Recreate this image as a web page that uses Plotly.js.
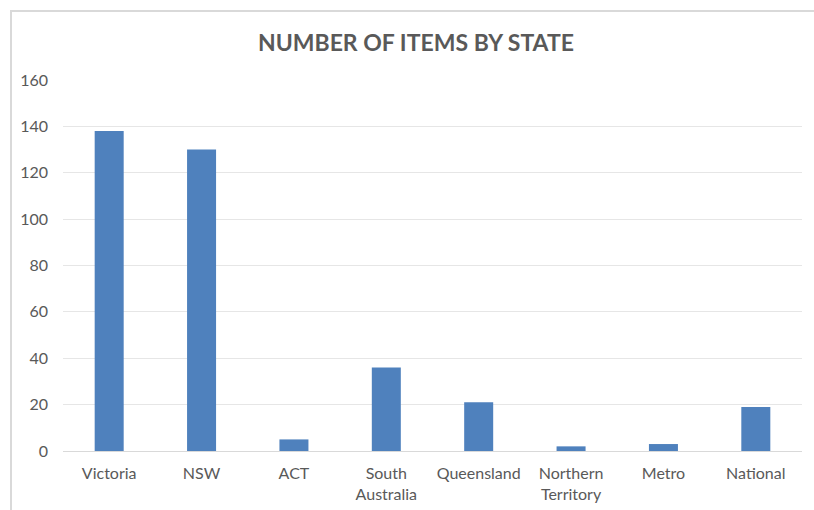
<!DOCTYPE html>
<html>
<head>
<meta charset="utf-8">
<script src="https://cdn.plot.ly/plotly-3.0.1.min.js"></script>
<style>
html,body{margin:0;padding:0;background:#fff;}
#wrap{position:relative;width:814px;height:510px;}
#chart{width:814px;height:510px;}
#frame{position:absolute;left:10px;top:10px;width:810px;height:510px;border-left:2px solid #d9d9d9;border-top:2px solid #d9d9d9;pointer-events:none;box-sizing:border-box;}
</style>
</head>
<body>
<div id="wrap">
<div id="chart"></div>
<div id="frame"></div>
</div>
<script>
const categories = ["Victoria", "NSW", "ACT", "South<br>Australia", "Queensland", "Northern<br>Territory", "Metro", "National"];
const items = [138, 130, 5, 36, 21, 2, 3, 19];
const yTicks = [0, 20, 40, 60, 80, 100, 120, 140, 160];

const trace = {
  type: "bar",
  x: categories,
  y: items,
  marker: {color: "#4f81bd"},
  hoverinfo: "x+y"
};

const layout = {
  width: 814,
  height: 510,
  paper_bgcolor: "#ffffff",
  plot_bgcolor: "#ffffff",
  margin: {l: 63, r: 12, t: 80, b: 59},
  bargap: 0.686,
  showlegend: false,
  font: {family: "Lato, 'Open Sans', sans-serif", color: "#595959", size: 16},
  title: {
    text: "<b>NUMBER OF ITEMS BY STATE</b>",
    font: {family: "Lato, 'Open Sans', sans-serif", size: 23, color: "#595959"},
    x: 0.511, xanchor: "center",
    y: 0.915, yanchor: "middle"
  },
  xaxis: {
    type: "category",
    showgrid: false,
    showline: true,
    linecolor: "#d9d9d9",
    linewidth: 1,
    ticks: "",
    ticklabelstandoff: 8,
    tickfont: {size: 16, color: "#595959"},
    fixedrange: true
  },
  yaxis: {
    range: [0, 160],
    tickvals: yTicks,
    showgrid: true,
    gridcolor: "#e6e6e6",
    gridwidth: 1,
    zeroline: false,
    showline: false,
    ticks: "",
    ticklabelstandoff: 14,
    tickfont: {size: 16, color: "#595959"},
    fixedrange: true
  }
};

Plotly.newPlot("chart", [trace], layout, {displayModeBar: false, staticPlot: true});
</script>
</body>
</html>
